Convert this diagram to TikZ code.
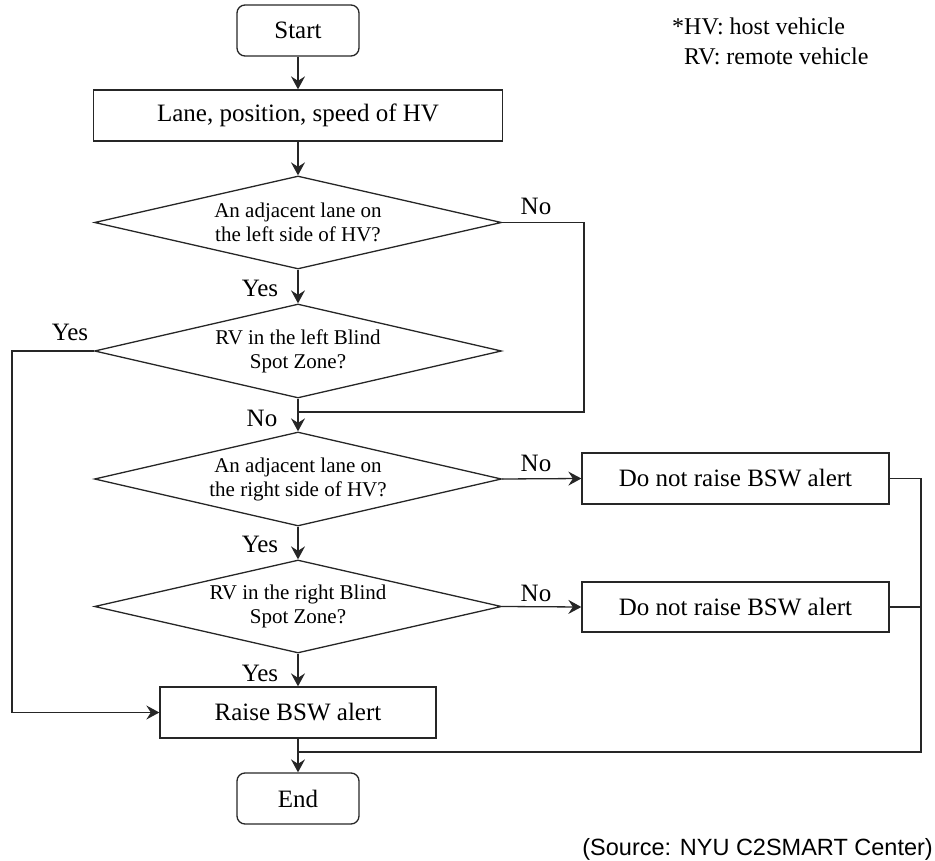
\documentclass[tikz,border=0pt]{standalone}
\usepackage{fontspec}
\setmainfont{Liberation Serif}
\newfontfamily\srcfont{Liberation Sans}
\usetikzlibrary{shapes.geometric,arrows.meta}

\tikzset{
  link/.style={line width=1.3pt, draw=black!85},
  boxtext/.style={font=\fontsize{25}{30}\selectfont},
  process/.style={boxtext, draw=black!85, line width=1.3pt, rectangle, inner sep=0pt, anchor=center},
  terminal/.style={process, rounded corners=8pt},
  decision/.style={draw=black!85, line width=1.3pt, diamond, aspect=4.35, inner sep=0pt, align=center,
    font=\fontsize{21}{24}\selectfont},
  branch/.style={font=\fontsize{25}{30}\selectfont, inner sep=0pt},
  arr/.style={link, -{Stealth[length=13pt,width=14pt,inset=4.5pt]}},
  note/.style={font=\fontsize{24}{28}\selectfont, inner sep=0pt, anchor=base west}
}

\begin{document}
\begin{tikzpicture}[x=1pt,y=-1pt]
\useasboundingbox (0,0) rectangle (935,861);

% main column
\node[terminal, minimum width=122pt, minimum height=51pt] (start) at (298,30.5) {Start};
\node[process, minimum width=409pt, minimum height=51pt] (lane) at (298,115.5) {Lane, position, speed of HV};
\node[decision, minimum width=407pt, minimum height=93pt] (d1) at (298,222.5) {An adjacent lane on\\the left side of HV?};
\node[decision, minimum width=407pt, minimum height=94pt] (d2) at (298,351) {RV in the left Blind\\Spot Zone?};
\node[decision, minimum width=407pt, minimum height=94pt] (d3) at (298,479) {An adjacent lane on\\the right side of HV?};
\node[decision, minimum width=407pt, minimum height=93pt] (d4) at (298,606.5) {RV in the right Blind\\Spot Zone?};
\node[process, minimum width=276pt, minimum height=51pt] (raise) at (298,712.5) {Raise BSW alert};
\node[terminal, minimum width=122pt, minimum height=51pt] (end) at (298,798.5) {End};

% right column
\node[process, minimum width=307pt, minimum height=51pt] (nr1) at (735.5,478.5) {Do not raise BSW alert};
\node[process, minimum width=307pt, minimum height=50pt] (nr2) at (735.5,607) {Do not raise BSW alert};

% junction points
\coordinate (j1) at (298,412);
\coordinate (j2) at (298,752);
\coordinate (rA) at (584,222.5);
\coordinate (rB) at (584,412);
\coordinate (lA) at (12,351);
\coordinate (lB) at (12,712.5);
\coordinate (eA) at (921,478.5);
\coordinate (eB) at (921,607);
\coordinate (eC) at (921,752);

% connectors
\draw[arr] (start.south) -- (lane.north);
\draw[arr] (lane.south) -- (d1.north);
\draw[arr] (d1.south) -- (d2.north);
\draw[link] (d1.east) -- (rA) -- (rB) -- (j1);
\draw[arr] (d2.south) -- (d3.north);
\draw[arr] (d2.west) -- (lA) -- (lB) -- (raise.west);
\draw[arr] (d3.south) -- (d4.north);
\draw[arr] (d3.east) -- (nr1.west);
\draw[arr] (d4.east) -- (nr2.west);
\draw[arr] (d4.south) -- (raise.north);
\draw[link] (nr1.east) -- (eA) -- (eC) -- (j2);
\draw[link] (nr2.east) -- (eB);
\draw[arr] (raise.south) -- (end.north);

% branch labels
\node[branch] (l1) at (536,206) {No};
\node[branch] (l2) at (260,288) {Yes};
\node[branch] (l3) at (70,332) {Yes};
\node[branch] (l4) at (262,418) {No};
\node[branch] (l5) at (536,463) {No};
\node[branch] (l6) at (260,544) {Yes};
\node[branch] (l7) at (536,593) {No};
\node[branch] (l8) at (260,673) {Yes};

% legend and source
\node[note] (n1) at (672,35) {*HV: host vehicle};
\node[note] (n2) at (684,65) {RV: remote vehicle};
\node[font=\srcfont\fontsize{23.5}{28}\selectfont, inner sep=0pt, anchor=base east] (src) at (933,855) {(Source: NYU C2SMART Center)};
\end{tikzpicture}
\end{document}
